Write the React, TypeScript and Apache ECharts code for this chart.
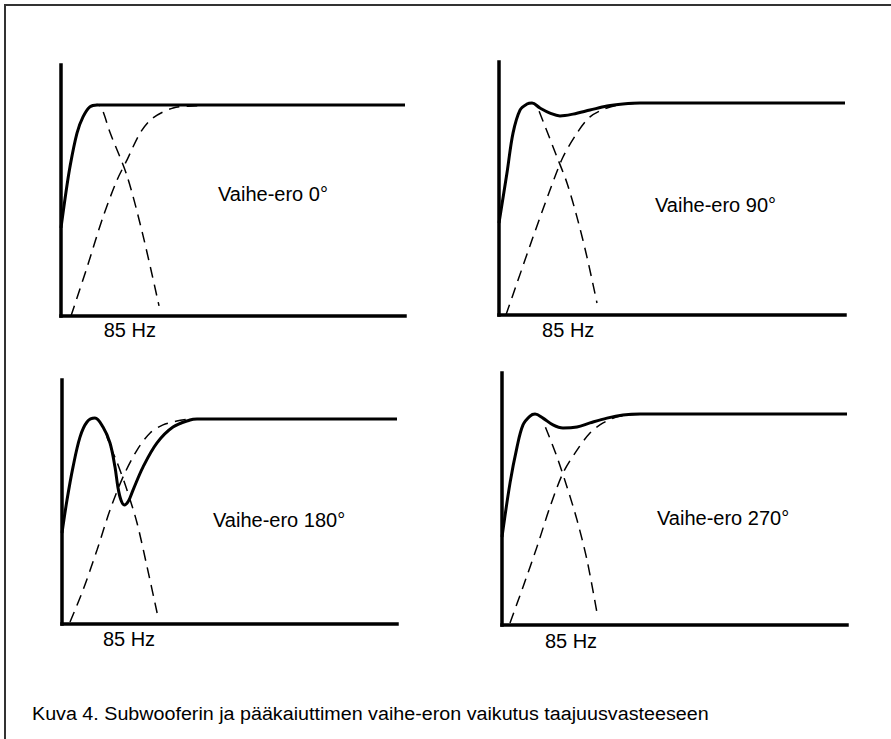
import React, { useEffect, useRef } from "react";
import * as echarts from "echarts";

// x: relative frequency (0..100 of axis length), y: level (0..100 of axis height)
const p1Solid = [[0,35.1],[1.2,47],[2.6,59.4],[4.65,72.9],[6.4,79.3],[8.4,83.3],[10.5,84.1],[20,84.1],[100,84.1]];
const p1Low = [[8.4,83.3],[10.5,84.3],[11.9,82.5],[14.2,73.3],[19.2,55.8],[23.8,32.3],[28.5,4]];
const p1High = [[2.9,0],[7.6,19.5],[12.2,39.4],[16.3,54.2],[19.2,62.2],[23,72.9],[26.7,78.9],[32.6,82.9],[38.4,83.7],[45,84.1]];

const p2Solid = [[0,36.4],[2.3,56.1],[4.05,71.9],[6.07,81],[8.09,83.4],[9.54,83.8],[11.85,81.8],[14.74,79.8],[17.63,78.7],[21.39,79.4],[26.3,81],[31.2,82.6],[35.8,83.4],[40.75,83.8],[50,83.8],[100,83.8]];
const p2Low = [[11.6,80.5],[12.7,76.7],[16.76,62.45],[19.65,52.2],[22.54,38.7],[25.43,22.9],[28.32,4.74]];
const p2High = [[2,0],[5.2,12.6],[9.83,30.8],[14.74,49.4],[18.5,62.45],[22.54,71.9],[26.3,78.3],[31.2,81.8],[36.4,83.4],[43.6,83.8]];

const p3Solid = [[0,37.3],[1.49,50.8],[3.28,64.3],[5.37,76.6],[7.46,82.8],[9.85,84.4],[12.24,80.7],[14.33,74.2],[15.82,64.3],[16.7,56],[17.6,50.8],[18.6,48.8],[19.8,50.3],[21.2,54.9],[24.18,64.3],[28.36,74.2],[33.13,80.7],[38.2,83.6],[40.3,84],[50,84],[100,84]];
const p3Low = [[12.84,79.5],[14.33,73],[16.4,66.4],[19.4,54.9],[22.4,41.4],[25.4,23.4],[28.4,4.5]];
const p3High = [[2.39,0.8],[6.27,13.9],[10.45,30.3],[14.33,46.7],[18.2,60.2],[22.4,71.3],[26.3,78.3],[30.15,81.6],[34.3,83.2],[38.2,84]];

const p4Solid = [[0,34.9],[2.32,56.3],[4.35,70.6],[6.09,79.4],[8.12,82.9],[9.57,83.7],[11.88,82.1],[14.78,79.4],[17.68,78.2],[21.74,78.6],[25.5,80.2],[30.43,82.1],[35.07,83.3],[40,83.7],[50,83.7],[100,83.7]];
const p4Low = [[12.6,78.5],[15.94,66.7],[18.84,54.8],[21.74,41.7],[24.64,25.8],[27.54,4.76]];
const p4High = [[2.32,0.8],[6.09,15.1],[10.14,31],[13.9,46.8],[17.68,60.3],[21.74,69.4],[25.5,76.2],[29.3,80.2],[34.2,82.9],[41.4,83.7]];

const panelTitles = ["Vaihe-ero 0°", "Vaihe-ero 90°", "Vaihe-ero 180°", "Vaihe-ero 270°"];
const crossoverLabel = "85 Hz";
const crossoverTick = 20;
const caption = "Kuva 4. Subwooferin ja pääkaiuttimen vaihe-eron vaikutus taajuusvasteeseen";

const FONT = "'Liberation Sans', Arial, Helvetica, sans-serif";

export default function App() {
  const ref = useRef<HTMLDivElement>(null);
  useEffect(() => {
    if (!ref.current) return;
    const chart = echarts.init(ref.current, null, { renderer: "svg" });
    const panels = [
      { grid: { left: 61, top: 65, width: 344, height: 251 }, solid: p1Solid, low: p1Low, high: p1High, title: panelTitles[0], tx: 218, ty: 194, margin: 4 },
      { grid: { left: 499, top: 62, width: 346, height: 253 }, solid: p2Solid, low: p2Low, high: p2High, title: panelTitles[1], tx: 655, ty: 205, margin: 5 },
      { grid: { left: 62, top: 380, width: 335, height: 244 }, solid: p3Solid, low: p3Low, high: p3High, title: panelTitles[2], tx: 213, ty: 520, margin: 5 },
      { grid: { left: 502, top: 373, width: 345, height: 252 }, solid: p4Solid, low: p4Low, high: p4High, title: panelTitles[3], tx: 657, ty: 518, margin: 6 },
    ];
    const axisLine = { show: true, onZero: false, lineStyle: { color: "#000", width: 3.5, cap: "square" } };
    const series: any[] = [];
    panels.forEach((p, i) => {
      const dashed = { color: "#000", width: 1.5, type: [11, 7] };
      series.push({ type: "line", xAxisIndex: i, yAxisIndex: i, data: p.low, smooth: 0.3, showSymbol: false, symbol: "none", lineStyle: dashed, z: 2 });
      series.push({ type: "line", xAxisIndex: i, yAxisIndex: i, data: p.high, smooth: 0.3, showSymbol: false, symbol: "none", lineStyle: dashed, z: 2 });
      series.push({ type: "line", xAxisIndex: i, yAxisIndex: i, data: p.solid, smooth: 0.35, showSymbol: false, symbol: "none", lineStyle: { color: "#000", width: 3, join: "round" }, z: 3 });
    });
    chart.setOption({
      animation: false,
      backgroundColor: "#fff",
      grid: panels.map((p) => ({ ...p.grid, containLabel: false })),
      xAxis: panels.map((p, i) => ({
        type: "value", gridIndex: i, min: 0, max: 100, interval: crossoverTick,
        axisLine, axisTick: { show: false }, splitLine: { show: false },
        axisLabel: {
          show: true, margin: p.margin, fontSize: 20, fontFamily: FONT, color: "#000",
          showMinLabel: true, showMaxLabel: true,
          formatter: (v: number) => (v === crossoverTick ? crossoverLabel : ""),
        },
      })),
      yAxis: panels.map((p, i) => ({
        type: "value", gridIndex: i, min: 0, max: 100,
        axisLine, axisTick: { show: false }, splitLine: { show: false }, axisLabel: { show: false },
      })),
      series,
      graphic: [
        { type: "rect", silent: true, shape: { x: 5, y: 5, width: 1000, height: 1000 }, style: { fill: "none", stroke: "#333", lineWidth: 2 } },
        ...panels.map((p) => ({
          type: "text", x: p.tx, y: p.ty, silent: true,
          style: { text: p.title, fontSize: 20, fontFamily: FONT, fill: "#000", align: "left", verticalAlign: "middle" },
        })),
        {
          type: "text", x: 32, y: 714, scaleX: 1.095, silent: true,
          style: { text: caption, fontSize: 18, fontFamily: FONT, fill: "#000", align: "left", verticalAlign: "middle" },
        },
      ],
    });
    return () => chart.dispose();
  }, []);
  return <div ref={ref} style={{ position: "absolute", left: 0, top: 0, width: 891, height: 739, background: "#fff" }} />;
}
